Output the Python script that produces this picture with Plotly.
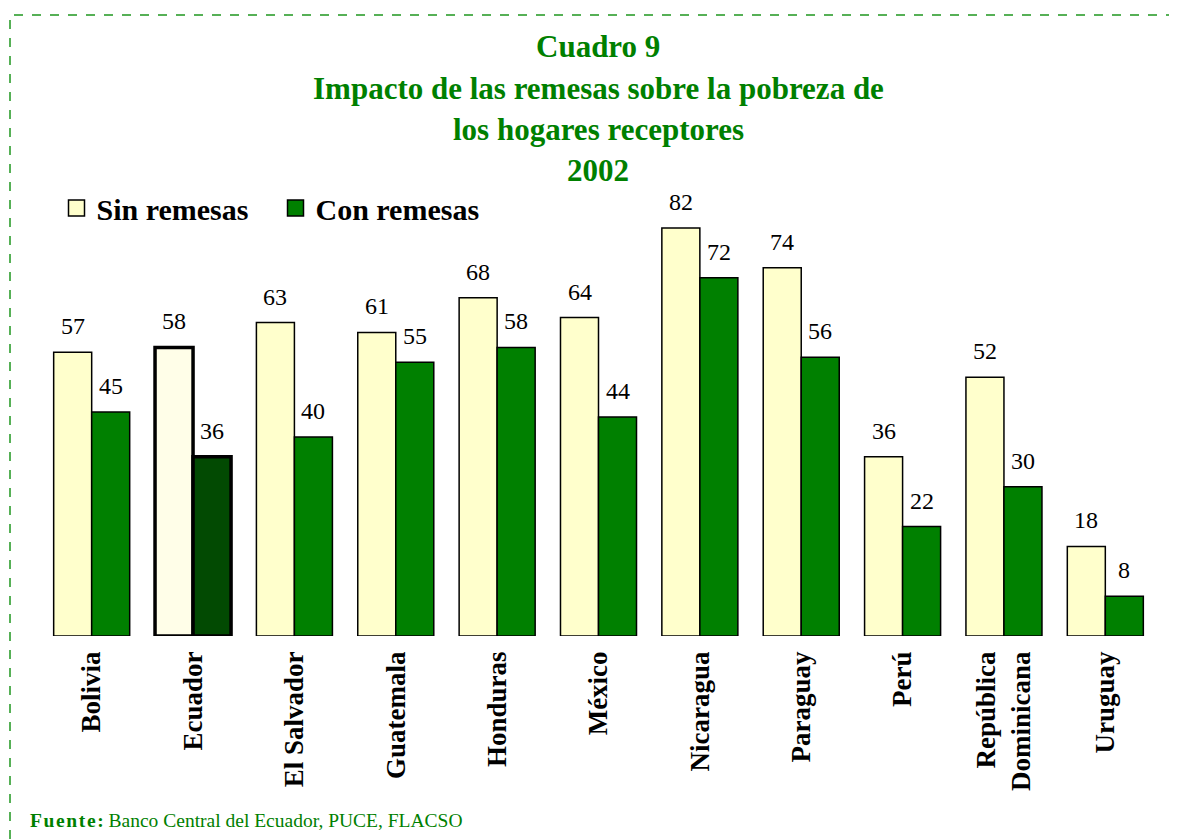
import plotly.graph_objects as go

countries = ["Bolivia", "Ecuador", "El Salvador", "Guatemala", "Honduras", "México",
             "Nicaragua", "Paraguay", "Perú", "República<br>Dominicana", "Uruguay"]
sin_remesas = [57, 58, 63, 61, 68, 64, 82, 74, 36, 52, 18]
con_remesas = [45, 36, 40, 55, 58, 44, 72, 56, 22, 30, 8]
title_lines = ["Cuadro 9", "Impacto de las remesas sobre la pobreza de",
               "los hogares receptores", "2002"]
highlight = "Ecuador"

OFF = 8  # page body margin
W, H = 1177 - OFF, 839 - OFF
L, R, T, B = 33, 21, 192, 203
PW, PH = W - L - R, H - T - B


def px(x):
    return (x - OFF - L) / PW


def py(y):
    return (H - B - (y - OFF)) / PH


SERIF = "Liberation Serif, Times New Roman, serif"
GREEN = "#008000"
SIN_COLOR, CON_COLOR = "#FFFFCC", "#008000"

sin_colors = ["#FFFEE8" if c == highlight else SIN_COLOR for c in countries]
con_colors = ["#024a02" if c == highlight else CON_COLOR for c in countries]
widths = [3.5 if c == highlight else 1.5 for c in countries]

fig = go.Figure()
fig.add_trace(go.Bar(x=countries, y=sin_remesas, name="Sin remesas", showlegend=False,
                     marker=dict(color=sin_colors, line=dict(color="black", width=widths))))
fig.add_trace(go.Bar(x=countries, y=con_remesas, name="Con remesas", showlegend=False,
                     marker=dict(color=con_colors, line=dict(color="black", width=widths))))
# legend entries with larger square symbols
for name, col in [("Sin remesas", SIN_COLOR), ("Con remesas", CON_COLOR)]:
    fig.add_trace(go.Scatter(x=[None], y=[None], mode="markers", name="<b>" + name + "</b>",
                             marker=dict(symbol="square", size=16, color=col,
                                         line=dict(color="black", width=1.5))))

annotations = []
for c, v in zip(countries, sin_remesas):
    annotations.append(dict(x=c, y=v, text=str(v), showarrow=False, xshift=-19, yshift=26,
                            yanchor="middle", font=dict(family=SERIF, size=24, color="black")))
for c, v in zip(countries, con_remesas):
    annotations.append(dict(x=c, y=v, text=str(v), showarrow=False, xshift=19, yshift=26,
                            yanchor="middle", font=dict(family=SERIF, size=24, color="black")))

for line, yy in zip(title_lines, [47, 88, 129, 170]):
    annotations.append(dict(xref="paper", yref="paper", x=px(598), y=py(yy), text="<b>" + line + "</b>",
                            showarrow=False, xanchor="center", yanchor="middle",
                            font=dict(family=SERIF, size=31, color=GREEN)))

annotations.append(dict(xref="paper", yref="paper", x=px(28), y=py(820), xanchor="left", yanchor="middle",
                        showarrow=False,
                        text="<b>F\u200au\u200ae\u200an\u200at\u200ae\u200a:</b> Banco Central del Ecuador, PUCE, FLACSO",
                        font=dict(family=SERIF, size=19.5, color=GREEN)))

fig.update_layout(
    width=W, height=H,
    margin=dict(l=L, r=R, t=T, b=B, pad=0),
    paper_bgcolor="white", plot_bgcolor="white",
    barmode="group", bargap=0.25, bargroupgap=0,
    showlegend=True,
    legend=dict(orientation="h", x=px(56.5), y=py(208), xanchor="left", yanchor="middle",
                font=dict(family=SERIF, size=30, color="black"),
                itemsizing="trace", entrywidth=174, entrywidthmode="pixels",
                bgcolor="rgba(0,0,0,0)"),
    annotations=annotations,
    shapes=[dict(type="rect", xref="paper", yref="paper", x0=px(10), x1=px(1200), y0=py(870), y1=py(15),
                 line=dict(color="#1f961f", width=1.5, dash="dash"), fillcolor="rgba(0,0,0,0)", layer="above")],
    xaxis=dict(showline=False, showgrid=False, zeroline=False, ticks="", tickangle=-90,
               ticklabelstandoff=9,
               tickfont=dict(family=SERIF, size=27, color="black"), tickprefix="<b>", ticksuffix="</b>"),
    yaxis=dict(range=[0, PH / 4.976], showgrid=False, zeroline=False, showline=False,
               showticklabels=False, ticks=""),
)

fig.write_html("out.html")
